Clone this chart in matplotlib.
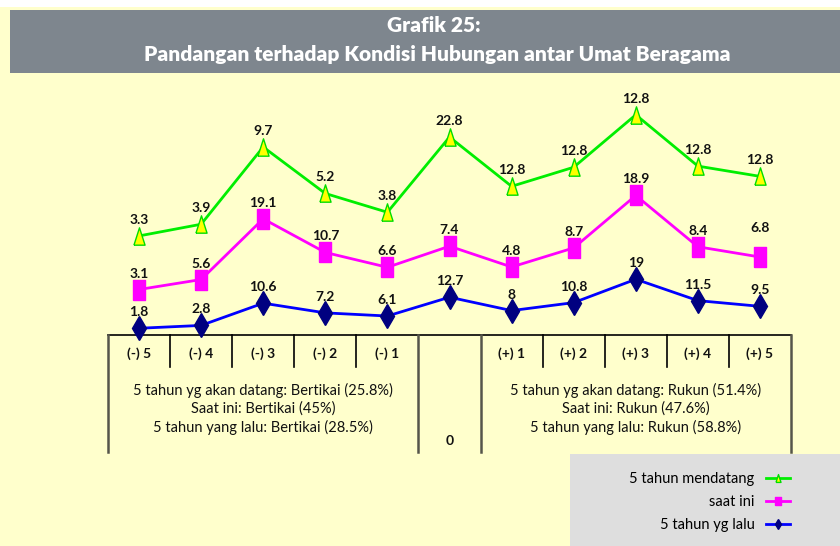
import matplotlib
matplotlib.use("Agg")
import matplotlib.pyplot as plt
from matplotlib.patches import Rectangle

plt.rcParams['font.family'] = ['Lato', 'DejaVu Sans']

# ---- data ----
categories = ["(-) 5", "(-) 4", "(-) 3", "(-) 2", "(-) 1", "",
              "(+) 1", "(+) 2", "(+) 3", "(+) 4", "(+) 5"]
mendatang = [3.3, 3.9, 9.7, 5.2, 3.8, 22.8, 12.8, 12.8, 12.8, 12.8, 12.8]
saat_ini = [3.1, 5.6, 19.1, 10.7, 6.6, 7.4, 4.8, 8.7, 18.9, 8.4, 6.8]
yg_lalu = [1.8, 2.8, 10.6, 7.2, 6.1, 12.7, 8, 10.8, 19, 11.5, 9.5]
series_names = ["5 tahun mendatang", "saat ini", "5 tahun yg lalu"]
left_notes = ["5 tahun yg akan datang: Bertikai (25.8%)",
              "Saat ini: Bertikai (45%)",
              "5 tahun yang lalu: Bertikai (28.5%)"]
right_notes = ["5 tahun yg akan datang: Rukun (51.4%)",
               "Saat ini: Rukun (47.6%)",
               "5 tahun yang lalu: Rukun (58.8%)"]
mid_label = "0"
title_lines = ["Grafik 25:", "Pandangan terhadap Kondisi Hubungan antar Umat Beragama"]

# ---- layout (pixels) ----
W, H = 840, 546
X0_PX, DX_PX = 139, 62.1        # first category centre, step
Y0_PX, DY_PX = 333.4, 2.85      # baseline, pixels per unit
OFF_INI, OFF_MENDATANG = 10.5, 26  # stacked chart has hidden gaps
BG = "#FFFFCC"

fig = plt.figure(figsize=(W / 100, H / 100), dpi=100)
fig.patch.set_facecolor(BG)

xlim = (-X0_PX / DX_PX, (W - X0_PX) / DX_PX)

# background axes: x in categories, y in pixels (top = 0)
bg = fig.add_axes([0, 0, 1, 1], zorder=0)
bg.set_xlim(*xlim)
bg.set_ylim(H, 0)
bg.axis("off")

# lines axes: x in categories, y in values
ax = fig.add_axes([0, 0, 1, 1], zorder=1)
ax.set_xlim(*xlim)
ax.set_ylim(-(H - Y0_PX) / DY_PX, Y0_PX / DY_PX)
ax.axis("off")
ax.patch.set_visible(False)

# title bar
fig.patches.append(Rectangle((0, (H - 7) / H), 1, 7 / H, transform=fig.transFigure,
                             facecolor="white", edgecolor="none", zorder=0))
fig.patches.append(Rectangle((10 / W, (H - 72.5) / H), 1, 62.5 / H, transform=fig.transFigure,
                             facecolor="#7E868E", edgecolor="none", zorder=0))
fig.text(434 / W, 1 - 25 / H, title_lines[0], color="white", fontsize=15, fontweight="heavy",
         ha="center", va="center")
fig.text(437 / W, 1 - 54 / H, title_lines[1], color="white", fontsize=15, fontweight="heavy",
         ha="center", va="center")

# ---- stacked lines ----
x = list(range(len(categories)))
y_lalu = yg_lalu
y_ini = [a + b + OFF_INI for a, b in zip(yg_lalu, saat_ini)]
y_mend = [a + b + c + OFF_MENDATANG for a, b, c in zip(yg_lalu, saat_ini, mendatang)]

tall_tri = [(-0.32, -0.5), (0.32, -0.5), (0, 0.5), (-0.32, -0.5)]
tall_sq = [(-0.3, -0.5), (0.3, -0.5), (0.3, 0.5), (-0.3, 0.5), (-0.3, -0.5)]

l_mend, = ax.plot(x, y_mend, color="#00EE00", lw=2, marker=tall_tri, ms=12.5,
                  mfc="#FFFF00", mec="#00DD00", mew=1, label=series_names[0])
l_ini, = ax.plot(x, y_ini, color="#FF00FF", lw=2, marker=tall_sq, ms=14,
                 mfc="#FF00FF", mec="#FF00FF", label=series_names[1])
l_lalu, = ax.plot(x, y_lalu, color="#0000FF", lw=2, marker="d", ms=12,
                  mfc="#000080", mec="#000080", label=series_names[2])

label_lift = {("ini", 10): 13}
for key, vals, ys in [("mend", mendatang, y_mend), ("ini", saat_ini, y_ini), ("lalu", yg_lalu, y_lalu)]:
    for i, (v, yy) in enumerate(zip(vals, ys)):
        lift = 16 + label_lift.get((key, i), 0)
        ax.annotate(f"{v:g}", (i, yy), xytext=(0, lift * 0.72), textcoords="offset points",
                    ha="center", va="center", fontsize=10, fontweight="bold", color="#111111")

# ---- table under the chart ----
TOP, HEAD_BOT, BOT = 335, 367, 452
n = len(categories)
bg.plot([-0.5, n - 0.5], [TOP, TOP], color="black", lw=1.2)
for b in [-0.5, 4.5, 5.5, n - 0.5]:
    bg.plot([b, b], [TOP, BOT], color="#55554a", lw=1.8)
for b in [0.5, 1.5, 2.5, 3.5, 6.5, 7.5, 8.5, 9.5]:
    bg.plot([b, b], [TOP, HEAD_BOT], color="black", lw=1.2)
for i, c in enumerate(categories):
    if c:
        bg.text(i, 354, c, ha="center", va="center", fontsize=10, fontweight="bold", color="#111111")
bg.text(5, 441, mid_label, ha="center", va="center", fontsize=10, fontweight="bold", color="#111111")
for k, (ln, rn) in enumerate(zip(left_notes, right_notes)):
    yy = 390 + k * 18.7
    bg.text(2, yy, ln, ha="center", va="center", fontsize=10.5, color="#111111")
    bg.text(8, yy, rn, ha="center", va="center", fontsize=10.5, color="#111111")

# ---- legend ----
fig.patches.append(Rectangle((570 / W, 0), 1, (H - 454) / H, transform=fig.transFigure,
                             facecolor="#DEDEDE", edgecolor="none", zorder=0))
ax.legend(handles=[l_mend, l_ini, l_lalu], loc="center right", frameon=False,
          bbox_to_anchor=(797 / W, 1 - 502 / H), bbox_transform=fig.transFigure,
          markerfirst=False, markerscale=0.45, fontsize=10.5, borderpad=0,
          handlelength=1.6, handletextpad=0.8, labelspacing=0.6)

fig.savefig("out.png", dpi=100, facecolor=BG)
